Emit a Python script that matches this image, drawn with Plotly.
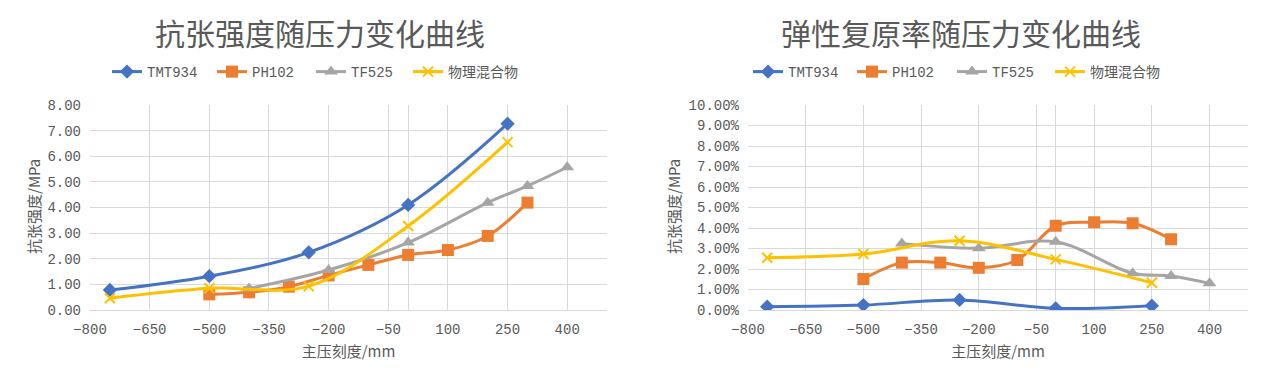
import plotly.graph_objects as go

# ---------------- data ----------------
series_names = ["TMT934", "PH102", "TF525", "物理混合物"]
series_colors = ["#4472C4", "#ED7D31", "#A5A5A5", "#FFC000"]
series_symbols = ["diamond", "square", "triangle-up", "x-thin"]

# x positions (主压刻度/mm)
x_tmt934 = [-750, -500, -250, 0, 250]
x_ph102 = [-500, -400, -300, -200, -100, 0, 100, 200, 300]
x_tf525 = [-400, -200, 0, 200, 300, 400]
x_mix = [-750, -500, -250, 0, 250]

# 抗张强度 (MPa)
tensile_tmt934 = [0.78, 1.32, 2.25, 4.10, 7.27]
tensile_ph102 = [0.61, 0.69, 0.91, 1.35, 1.76, 2.15, 2.34, 2.89, 4.19]
tensile_tf525 = [0.84, 1.56, 2.63, 4.19, 4.84, 5.57]
tensile_mix = [0.46, 0.85, 0.93, 3.28, 6.55]

# 弹性复原率 (fraction)
recovery_tmt934 = [0.0016, 0.0024, 0.0049, 0.0008, 0.0021]
recovery_ph102 = [0.0151, 0.0231, 0.0231, 0.0206, 0.0244, 0.0411, 0.0428, 0.0423, 0.0345]
recovery_tf525 = [0.0325, 0.0301, 0.0333, 0.0179, 0.0166, 0.0130]
recovery_mix = [0.0255, 0.0273, 0.0338, 0.0247, 0.0133]

title_left = "抗张强度随压力变化曲线"
title_right = "弹性复原率随压力变化曲线"
x_title = "主压刻度/mm"
y_title = "抗张强度/MPa"

x_ticks = [-800, -650, -500, -350, -200, -50, 100, 250, 400]
x_range = [-800, 500]

# ---------------- figure ----------------
OFF = 8                      # default page body margin
W, H = 1280 - 2 * OFF, 382 - 2 * OFF
TXT = "#595959"
GRID = "#D9D9D9"
MONO = "Liberation Mono, Noto Sans CJK SC"
CJK = "Noto Sans CJK SC"


def px(x):
    return (x - OFF) / W


def py(y):
    return 1 - (y - OFF) / H


fig = go.Figure()

xs = [x_tmt934, x_ph102, x_tf525, x_mix]
left_vals = [tensile_tmt934, tensile_ph102, tensile_tf525, tensile_mix]
right_vals = [recovery_tmt934, recovery_ph102, recovery_tf525, recovery_mix]
msizes = [11, 12, 12, 10]

# legend entry start positions (pixels) for each chart
legend_left_x = [112, 217, 316, 413]
legend_right_x = [753, 857, 957, 1055]


def marker_for(i):
    if series_symbols[i] == "x-thin":
        return dict(symbol="x-thin", size=msizes[i], color=series_colors[i],
                    line=dict(color=series_colors[i], width=2))
    return dict(symbol=series_symbols[i], size=msizes[i], color=series_colors[i],
                line=dict(width=0))


def legend_id(k):
    return "legend" if k == 0 else "legend%d" % (k + 1)


for i, name in enumerate(series_names):
    fig.add_trace(go.Scatter(
        x=xs[i], y=left_vals[i], name=name, mode="lines+markers",
        line=dict(color=series_colors[i], width=3, shape="spline", smoothing=1),
        marker=marker_for(i), xaxis="x", yaxis="y", legend=legend_id(i),
        showlegend=True))

for i, name in enumerate(series_names):
    fig.add_trace(go.Scatter(
        x=xs[i], y=right_vals[i], name=name, mode="lines+markers",
        line=dict(color=series_colors[i], width=3, shape="spline", smoothing=1),
        marker=marker_for(i), xaxis="x2", yaxis="y2", legend=legend_id(i + 4),
        showlegend=True))

y_dom = [py(310), py(105)]

common_x = dict(
    range=x_range, tickmode="array", tickvals=x_ticks,
    showgrid=True, gridcolor=GRID, gridwidth=1,
    zeroline=True, zerolinecolor=GRID, zerolinewidth=1,
    showline=True, linecolor=GRID, linewidth=1,
    ticks="", ticklabelstandoff=6, automargin=False,
    tickfont=dict(family=MONO, size=14, color=TXT),
    title=dict(text=x_title, font=dict(family=CJK, size=15, color=TXT), standoff=9),
)
common_y = dict(
    showgrid=True, gridcolor=GRID, gridwidth=1,
    zeroline=False, showline=False, ticks="", ticklabelstandoff=8, automargin=False,
    tickfont=dict(family=MONO, size=14, color=TXT),
)

legends = {}
for k, lx in enumerate(legend_left_x + legend_right_x):
    legends[legend_id(k)] = dict(
        orientation="h", x=px(lx - 5), xanchor="left", y=py(72), yanchor="middle",
        font=dict(family=MONO, size=14, color=TXT), bgcolor="rgba(0,0,0,0)",
        borderwidth=0, visible=True)

fig.update_layout(
    width=W, height=H, showlegend=True,
    margin=dict(l=0, r=0, t=0, b=0, autoexpand=False),
    paper_bgcolor="white", plot_bgcolor="white",
    xaxis=dict(domain=[px(90), px(607)], anchor="y", **common_x),
    yaxis=dict(domain=y_dom, anchor="x", range=[0, 8], tick0=0, dtick=1,
               tickformat=".2f", **common_y),
    xaxis2=dict(domain=[px(748), px(1248)], anchor="y2", **common_x),
    yaxis2=dict(domain=y_dom, anchor="x2", range=[0, 0.10], tick0=0, dtick=0.01,
                tickformat=".2%", **common_y),
    annotations=[
        dict(text=title_left, x=px(320), y=py(32), xref="paper", yref="paper",
             xanchor="center", yanchor="middle", showarrow=False,
             font=dict(family=CJK, size=30, color=TXT)),
        dict(text=title_right, x=px(961), y=py(32), xref="paper", yref="paper",
             xanchor="center", yanchor="middle", showarrow=False,
             font=dict(family=CJK, size=30, color=TXT)),
        dict(text=y_title, x=px(33), y=py(207), xref="paper", yref="paper",
             xanchor="center", yanchor="middle", textangle=-90, showarrow=False,
             font=dict(family=CJK, size=15, color=TXT)),
        dict(text=y_title, x=px(673), y=py(207), xref="paper", yref="paper",
             xanchor="center", yanchor="middle", textangle=-90, showarrow=False,
             font=dict(family=CJK, size=15, color=TXT)),
    ],
    **legends,
)

fig.write_html("out.html")
